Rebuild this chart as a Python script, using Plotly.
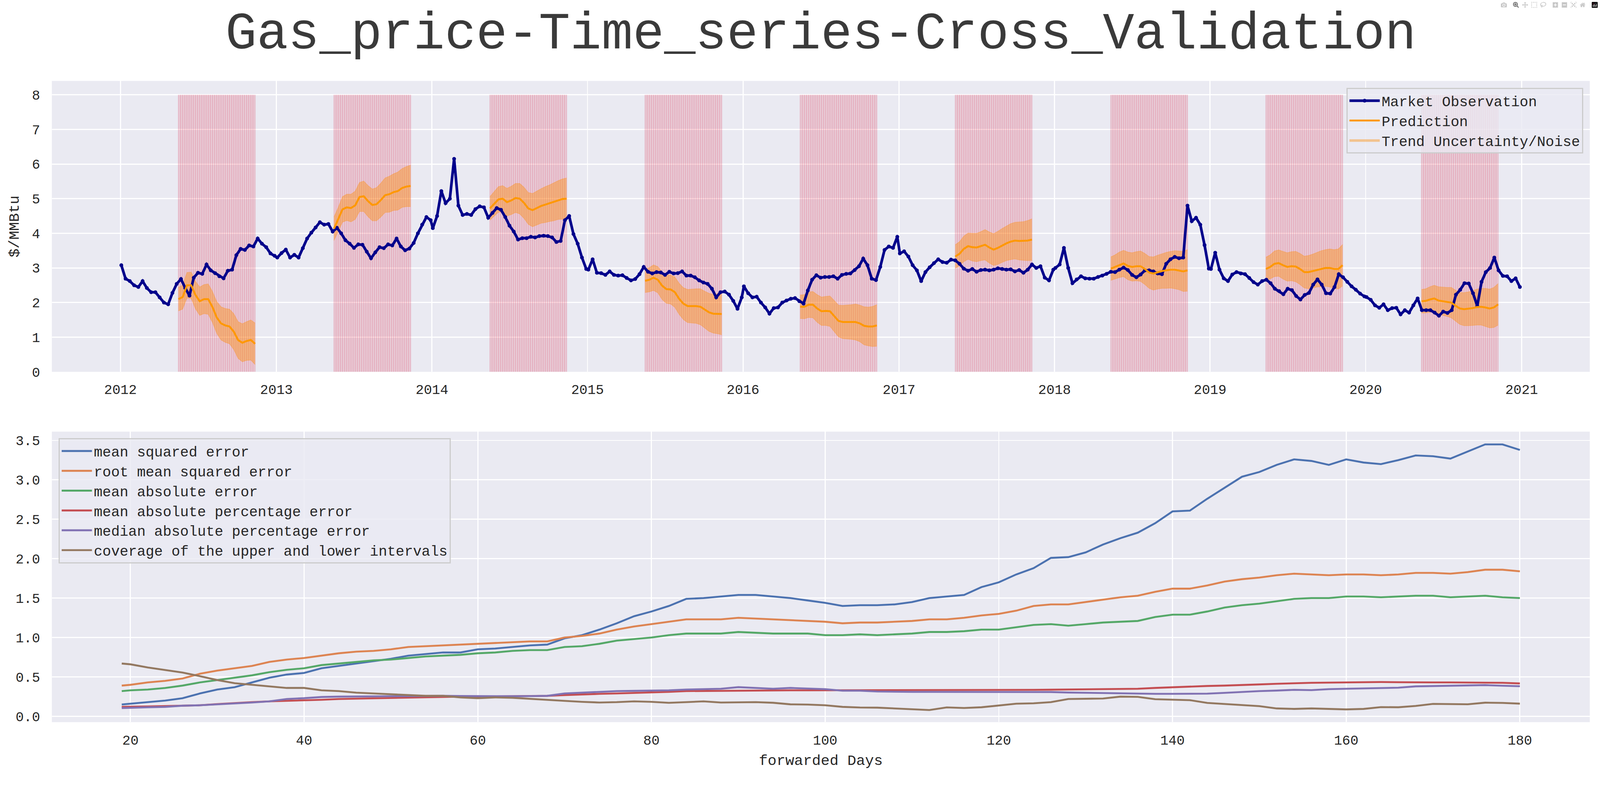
import pandas as pd
import plotly.graph_objects as go
from plotly.subplots import make_subplots

# market observation, sampled every 10 days from Jan 3 of each year ($/MMBtu)
obs_2012 = [3.08, 2.69, 2.62, 2.50, 2.45, 2.62, 2.42, 2.30, 2.30, 2.15, 2.00, 1.95, 2.28, 2.54, 2.68, 2.42, 2.20, 2.72, 2.86, 2.83,
            3.10, 2.93, 2.85, 2.76, 2.70, 2.92, 2.95, 3.37, 3.55, 3.52, 3.65, 3.62, 3.85, 3.70, 3.60, 3.42, 3.35]
obs_2013 = [3.30, 3.43, 3.53, 3.30, 3.38, 3.30, 3.57, 3.85, 4.02, 4.17, 4.32, 4.25, 4.27, 4.05, 4.16, 4.00, 3.80, 3.70, 3.58, 3.68,
            3.67, 3.47, 3.28, 3.45, 3.60, 3.57, 3.68, 3.65, 3.85, 3.62, 3.51, 3.56, 3.72, 4.00, 4.25, 4.47, 4.38]
obs_2014 = [4.15, 4.50, 5.22, 4.87, 5.00, 6.15, 4.80, 4.53, 4.56, 4.53, 4.70, 4.78, 4.75, 4.45, 4.59, 4.73, 4.68, 4.47, 4.22, 4.05,
            3.82, 3.86, 3.86, 3.90, 3.88, 3.92, 3.93, 3.92, 3.88, 3.75, 3.78, 4.38, 4.50, 3.98, 3.70, 3.30, 2.97]
obs_2015 = [2.95, 3.25, 2.86, 2.85, 2.80, 2.90, 2.80, 2.78, 2.79, 2.71, 2.64, 2.68, 2.82, 3.03, 2.89, 2.84, 2.88, 2.87, 2.80, 2.89,
            2.84, 2.85, 2.90, 2.78, 2.78, 2.73, 2.64, 2.58, 2.54, 2.40, 2.15, 2.30, 2.32, 2.23, 2.05, 1.82, 2.15]
obs_2016 = [2.47, 2.27, 2.15, 2.17, 2.00, 1.86, 1.68, 1.84, 1.86, 2.00, 2.06, 2.11, 2.13, 2.04, 1.97, 2.35, 2.66, 2.79, 2.72, 2.74,
            2.74, 2.76, 2.69, 2.80, 2.83, 2.84, 2.94, 3.05, 3.27, 3.08, 2.69, 2.65, 3.03, 3.52, 3.62, 3.58, 3.90]
obs_2017 = [3.42, 3.48, 3.33, 3.08, 2.93, 2.62, 2.88, 3.02, 3.14, 3.25, 3.17, 3.15, 3.24, 3.22, 3.12, 2.98, 2.92, 2.97, 2.89, 2.94,
            2.95, 2.93, 2.95, 2.99, 2.97, 2.95, 2.96, 2.90, 2.94, 2.86, 2.95, 3.10, 3.00, 3.05, 2.72, 2.64, 2.95]
obs_2018 = [3.00, 3.10, 3.58, 3.00, 2.56, 2.67, 2.76, 2.70, 2.69, 2.69, 2.74, 2.78, 2.83, 2.89, 2.88, 2.95, 3.01, 2.94, 2.80, 2.73,
            2.81, 2.93, 2.93, 2.90, 2.84, 2.82, 3.12, 3.25, 3.32, 3.28, 3.30, 4.80, 4.35, 4.45, 4.25, 3.66, 2.98]
obs_2019 = [2.97, 3.44, 2.95, 2.70, 2.62, 2.81, 2.88, 2.84, 2.82, 2.71, 2.59, 2.52, 2.62, 2.66, 2.56, 2.40, 2.33, 2.24, 2.40, 2.36,
            2.19, 2.09, 2.22, 2.28, 2.52, 2.67, 2.52, 2.27, 2.26, 2.45, 2.82, 2.73, 2.60, 2.47, 2.37, 2.26, 2.18]
obs_2020 = [2.16, 2.08, 1.92, 1.85, 1.95, 1.78, 1.84, 1.85, 1.66, 1.78, 1.71, 1.92, 2.12, 1.78, 1.78, 1.78, 1.71, 1.62, 1.74, 1.70,
            1.78, 2.23, 2.37, 2.56, 2.55, 2.27, 1.90, 2.60, 2.88, 3.00, 3.30, 2.93, 2.77, 2.76, 2.62, 2.70, 2.45]
obs_years = {2012: obs_2012, 2013: obs_2013, 2014: obs_2014, 2015: obs_2015, 2016: obs_2016,
             2017: obs_2017, 2018: obs_2018, 2019: obs_2019, 2020: obs_2020}

# forecast windows (180 days each) and predictions every 10 days
cutoffs = ["2012-05-16", "2013-05-16", "2014-05-17", "2015-05-16", "2016-05-14",
           "2017-05-13", "2018-05-13", "2019-05-12", "2020-05-11"]
horizon = 180
pred_2012 = [2.10, 2.16, 2.50, 2.50, 2.22, 2.04, 2.10, 2.10, 1.87, 1.57, 1.40, 1.34, 1.31, 1.16, 0.92, 0.84, 0.89, 0.92, 0.81]
pred_2013 = [4.13, 4.40, 4.69, 4.75, 4.73, 4.81, 5.05, 5.07, 4.93, 4.82, 4.84, 4.96, 5.10, 5.13, 5.19, 5.22, 5.31, 5.35, 5.37]
pred_2014 = [4.72, 4.85, 4.98, 5.00, 4.90, 4.95, 5.02, 5.00, 4.88, 4.72, 4.67, 4.73, 4.79, 4.83, 4.87, 4.91, 4.96, 4.99, 5.00]
pred_2015 = [2.63, 2.66, 2.72, 2.66, 2.49, 2.39, 2.38, 2.30, 2.11, 1.97, 1.90, 1.90, 1.90, 1.88, 1.80, 1.72, 1.68, 1.68, 1.67]
pred_2016 = [1.88, 1.88, 1.94, 1.94, 1.83, 1.75, 1.76, 1.75, 1.61, 1.47, 1.44, 1.44, 1.44, 1.44, 1.40, 1.33, 1.31, 1.31, 1.34]
pred_2017 = [3.33, 3.41, 3.55, 3.63, 3.60, 3.59, 3.63, 3.67, 3.59, 3.53, 3.58, 3.65, 3.71, 3.76, 3.79, 3.78, 3.78, 3.79, 3.82]
pred_2018 = [2.98, 3.03, 3.09, 3.13, 3.06, 3.03, 3.05, 3.05, 2.97, 2.87, 2.84, 2.88, 2.91, 2.93, 2.95, 2.95, 2.93, 2.90, 2.93]
pred_2019 = [2.97, 3.03, 3.12, 3.14, 3.08, 3.03, 3.05, 3.04, 2.97, 2.88, 2.88, 2.91, 2.95, 2.98, 3.00, 3.00, 2.97, 2.97, 3.08]
pred_2020 = [2.04, 2.05, 2.09, 2.12, 2.06, 2.04, 2.02, 2.00, 1.91, 1.83, 1.81, 1.82, 1.84, 1.87, 1.88, 1.86, 1.83, 1.86, 1.95]
preds = [pred_2012, pred_2013, pred_2014, pred_2015, pred_2016, pred_2017, pred_2018, pred_2019, pred_2020]
# half width of the uncertainty band at each 10-day step
unc_half = [0.34, 0.35, 0.37, 0.38, 0.40, 0.41, 0.42, 0.44, 0.45, 0.46, 0.48, 0.49, 0.50, 0.52, 0.53, 0.55, 0.56, 0.58, 0.60]

# cross validation metrics vs forwarded days
days = [19] + list(range(20, 181, 2))
mse = [0.15, 0.16, 0.18, 0.20, 0.23, 0.29, 0.34, 0.37, 0.43, 0.49, 0.53,
       0.55, 0.61, 0.64, 0.67, 0.70, 0.73, 0.77, 0.79, 0.81, 0.81,
       0.85, 0.86, 0.88, 0.90, 0.91, 0.99, 1.03, 1.10, 1.18, 1.27,
       1.33, 1.40, 1.49, 1.50, 1.52, 1.54, 1.54, 1.52, 1.50, 1.47,
       1.44, 1.40, 1.41, 1.41, 1.42, 1.45, 1.50, 1.52, 1.54, 1.64,
       1.70, 1.80, 1.88, 2.01, 2.02, 2.08, 2.18, 2.26, 2.33, 2.45,
       2.60, 2.61, 2.76, 2.90, 3.04, 3.10, 3.19, 3.26, 3.24, 3.19,
       3.26, 3.22, 3.20, 3.25, 3.31, 3.30, 3.27, 3.36, 3.45, 3.45, 3.38]
rmse = [0.39, 0.40, 0.43, 0.45, 0.48, 0.54, 0.58, 0.61, 0.64, 0.69, 0.72,
        0.74, 0.77, 0.80, 0.82, 0.83, 0.85, 0.88, 0.89, 0.90, 0.91,
        0.92, 0.93, 0.94, 0.95, 0.95, 1.00, 1.02, 1.05, 1.10, 1.14,
        1.17, 1.20, 1.23, 1.23, 1.23, 1.25, 1.24, 1.23, 1.22, 1.21,
        1.20, 1.18, 1.19, 1.19, 1.20, 1.21, 1.23, 1.23, 1.25, 1.28,
        1.30, 1.34, 1.40, 1.42, 1.42, 1.45, 1.48, 1.51, 1.53, 1.58,
        1.62, 1.62, 1.66, 1.71, 1.74, 1.76, 1.79, 1.81, 1.80, 1.79,
        1.80, 1.80, 1.79, 1.80, 1.82, 1.82, 1.81, 1.83, 1.86, 1.86, 1.84]
mae = [0.32, 0.33, 0.34, 0.36, 0.39, 0.43, 0.46, 0.49, 0.52, 0.56, 0.59,
       0.61, 0.65, 0.67, 0.69, 0.71, 0.72, 0.74, 0.76, 0.77, 0.78,
       0.80, 0.81, 0.83, 0.84, 0.84, 0.88, 0.89, 0.92, 0.96, 0.98,
       1.00, 1.03, 1.05, 1.05, 1.05, 1.07, 1.06, 1.05, 1.05, 1.05,
       1.03, 1.03, 1.04, 1.03, 1.04, 1.05, 1.07, 1.07, 1.08, 1.10,
       1.10, 1.13, 1.16, 1.17, 1.15, 1.17, 1.19, 1.20, 1.21, 1.26,
       1.29, 1.29, 1.33, 1.38, 1.41, 1.43, 1.46, 1.49, 1.50, 1.50,
       1.52, 1.52, 1.51, 1.52, 1.53, 1.53, 1.51, 1.52, 1.53, 1.51, 1.50]
mape = [0.12, 0.12, 0.125, 0.13, 0.135, 0.14, 0.155, 0.17, 0.18, 0.19, 0.195,
        0.20, 0.21, 0.22, 0.225, 0.23, 0.235, 0.24, 0.245, 0.25, 0.25,
        0.25, 0.252, 0.255, 0.257, 0.26, 0.27, 0.28, 0.285, 0.29, 0.295,
        0.30, 0.31, 0.32, 0.322, 0.325, 0.328, 0.33, 0.33, 0.33, 0.33,
        0.33, 0.33, 0.33, 0.33, 0.33, 0.33, 0.33, 0.33, 0.33, 0.332,
        0.333, 0.334, 0.336, 0.338, 0.34, 0.34, 0.34, 0.345, 0.35, 0.36,
        0.37, 0.377, 0.385, 0.39, 0.40, 0.405, 0.413, 0.42, 0.425, 0.428,
        0.43, 0.435, 0.435, 0.433, 0.43, 0.43, 0.43, 0.43, 0.43, 0.425, 0.417]
mdape = [0.105, 0.11, 0.115, 0.12, 0.135, 0.14, 0.15, 0.16, 0.175, 0.19, 0.22,
         0.23, 0.245, 0.25, 0.252, 0.255, 0.258, 0.26, 0.26, 0.26, 0.258,
         0.255, 0.255, 0.255, 0.257, 0.26, 0.29, 0.30, 0.315, 0.32, 0.323,
         0.325, 0.33, 0.34, 0.345, 0.35, 0.37, 0.36, 0.35, 0.36, 0.35,
         0.345, 0.325, 0.325, 0.315, 0.31, 0.31, 0.31, 0.31, 0.31, 0.31,
         0.31, 0.308, 0.31, 0.308, 0.302, 0.298, 0.292, 0.288, 0.285, 0.285,
         0.285, 0.285, 0.288, 0.298, 0.31, 0.32, 0.327, 0.336, 0.332, 0.345,
         0.35, 0.355, 0.36, 0.363, 0.38, 0.385, 0.388, 0.39, 0.396, 0.388, 0.382]
coverage = [0.67, 0.66, 0.62, 0.59, 0.555, 0.51, 0.46, 0.42, 0.40, 0.38, 0.36,
            0.36, 0.33, 0.32, 0.30, 0.29, 0.28, 0.27, 0.26, 0.26, 0.24,
            0.23, 0.24, 0.235, 0.22, 0.205, 0.196, 0.184, 0.175, 0.18, 0.19,
            0.184, 0.171, 0.18, 0.19, 0.175, 0.176, 0.18, 0.172, 0.152, 0.149,
            0.14, 0.12, 0.112, 0.11, 0.10, 0.088, 0.08, 0.113, 0.106, 0.115,
            0.14, 0.16, 0.165, 0.18, 0.22, 0.226, 0.226, 0.25, 0.247, 0.217,
            0.211, 0.205, 0.17, 0.155, 0.144, 0.129, 0.10, 0.094, 0.10, 0.094,
            0.088, 0.094, 0.117, 0.115, 0.132, 0.158, 0.153, 0.153, 0.173, 0.17, 0.161]
metric_names = ["mean squared error", "root mean squared error", "mean absolute error",
                "mean absolute percentage error", "median absolute percentage error",
                "coverage of the upper and lower intervals"]
metric_colors = ["#4C72B0", "#DD8452", "#55A868", "#C44E52", "#8172B3", "#937860"]

FONT = "Liberation Mono"
BG = "#EAEAF2"
TXT = "#262626"
W, H = 4228, 2059

fig = make_subplots(rows=2, cols=1)

# red forecast windows: base span plus thin vertical stripes
stripe_x, stripe_y = [], []
shapes = []
for c in cutoffs:
    start = pd.Timestamp(c)
    end = start + pd.Timedelta(days=horizon)
    shapes.append(dict(type="rect", xref="x", yref="y", x0=start, x1=end, y0=0, y1=8,
                       fillcolor="rgba(220,20,60,0.14)", line=dict(width=0), layer="between"))
    for d in pd.date_range(start, end, freq="5D"):
        stripe_x += [d, d, None]
        stripe_y += [0, 8, None]
fig.add_trace(go.Scatter(x=stripe_x, y=stripe_y, mode="lines", showlegend=False, hoverinfo="skip",
                         line=dict(color="rgba(220,20,60,0.16)", width=2.5)), row=1, col=1)

# uncertainty bands
for i, (c, p) in enumerate(zip(cutoffs, preds)):
    px = pd.date_range(c, periods=len(p), freq="10D")
    lo = [v - h for v, h in zip(p, unc_half)]
    hi = [v + h for v, h in zip(p, unc_half)]
    fig.add_trace(go.Scatter(x=px, y=lo, mode="lines", line=dict(color="rgba(255,140,0,0.3)", width=1.5),
                             showlegend=False, hoverinfo="skip", legendgroup="unc"), row=1, col=1)
    fig.add_trace(go.Scatter(x=px, y=hi, mode="lines", fill="tonexty", fillcolor="rgba(255,140,0,0.4)",
                             line=dict(color="rgba(255,140,0,0.3)", width=1.5),
                             name="Trend Uncertainty/Noise", legendgroup="unc", legendrank=3,
                             showlegend=(i == 0), legend="legend"), row=1, col=1)

# observations
obs_x, obs_y = [], []
for yr, vals in obs_years.items():
    obs_x += list(pd.date_range(f"{yr}-01-03", periods=len(vals), freq="10D"))
    obs_y += vals
fig.add_trace(go.Scatter(x=obs_x, y=obs_y, mode="lines+markers", name="Market Observation",
                         line=dict(color="#00008B", width=7), marker=dict(size=10, color="#00008B"),
                         legendrank=1, legend="legend"), row=1, col=1)

# predictions
for i, (c, p) in enumerate(zip(cutoffs, preds)):
    px = pd.date_range(c, periods=len(p), freq="10D")
    fig.add_trace(go.Scatter(x=px, y=p, mode="lines", name="Prediction", legendgroup="pred",
                             line=dict(color="rgb(255,152,0)", width=5), legendrank=2,
                             showlegend=(i == 0), legend="legend"), row=1, col=1)

# metrics
for name, vals, col in zip(metric_names, [mse, rmse, mae, mape, mdape, coverage], metric_colors):
    fig.add_trace(go.Scatter(x=days, y=vals, mode="lines", name=name,
                             line=dict(color=col, width=5), legend="legend2"), row=2, col=1)

axis_common = dict(showgrid=True, gridcolor="white", gridwidth=3, zeroline=False, showline=False,
                   ticks="", tickfont=dict(family=FONT, size=36, color=TXT), automargin=False)
legend_common = dict(bgcolor="rgba(234,234,242,0.8)", bordercolor="#cccccc", borderwidth=3,
                     font=dict(family=FONT, size=38, color=TXT), traceorder="normal", itemwidth=80)

fig.update_layout(
    width=W, height=H,
    margin=dict(l=137, r=27, t=214, b=150),
    template="none",
    paper_bgcolor="white", plot_bgcolor=BG,
    font=dict(family=FONT, color=TXT),
    shapes=shapes,
    title=dict(text="Gas_price-Time_series-Cross_Validation", x=0.5, xref="paper", xanchor="center",
               y=1 - 80 / H, yref="container", yanchor="middle",
               font=dict(family=FONT, size=138, color="#3a3a3a")),
    xaxis=dict(axis_common, type="date", range=["2011-07-24", "2021-06-10"], dtick="M12",
               tick0="2012-01-01", tickformat="%Y", ticklabelstandoff=22, domain=[0, 1]),
    yaxis=dict(axis_common, range=[0, 8.4], dtick=1, tick0=0, ticklabelstandoff=30,
               domain=[(1909 - 983) / 1695, 1.0],
               title=dict(text="$/MMBtu", font=dict(family=FONT, size=39, color=TXT), standoff=22)),
    xaxis2=dict(axis_common, range=[10.95, 188.05], dtick=20, tick0=0, ticklabelstandoff=22, domain=[0, 1],
                title=dict(text="forwarded Days", font=dict(family=FONT, size=39, color=TXT), standoff=16)),
    yaxis2=dict(axis_common, range=[-0.074, 3.612], dtick=0.5, tick0=0, tickformat=".1f",
                ticklabelstandoff=30, domain=[0, (1909 - 1141) / 1695]),
    legend=dict(legend_common, x=(4184 - 137) / 4064, y=(1909 - 232) / 1695, xanchor="right", yanchor="top"),
    legend2=dict(legend_common, x=(155 - 137) / 4064, y=(1909 - 1158) / 1695, xanchor="left", yanchor="top"),
)

# fit the fixed-size figure to the window in case the page is scaled
fit_js = (
    "document.body.style.margin='0';document.body.style.overflow='hidden';"
    "var d=document.getElementById('{plot_id}');var s=window.innerWidth/%d;"
    "d.style.transformOrigin='0 0';d.style.transform='scale('+s+')';" % W
)
fig.write_html("out.html", post_script=fit_js)
